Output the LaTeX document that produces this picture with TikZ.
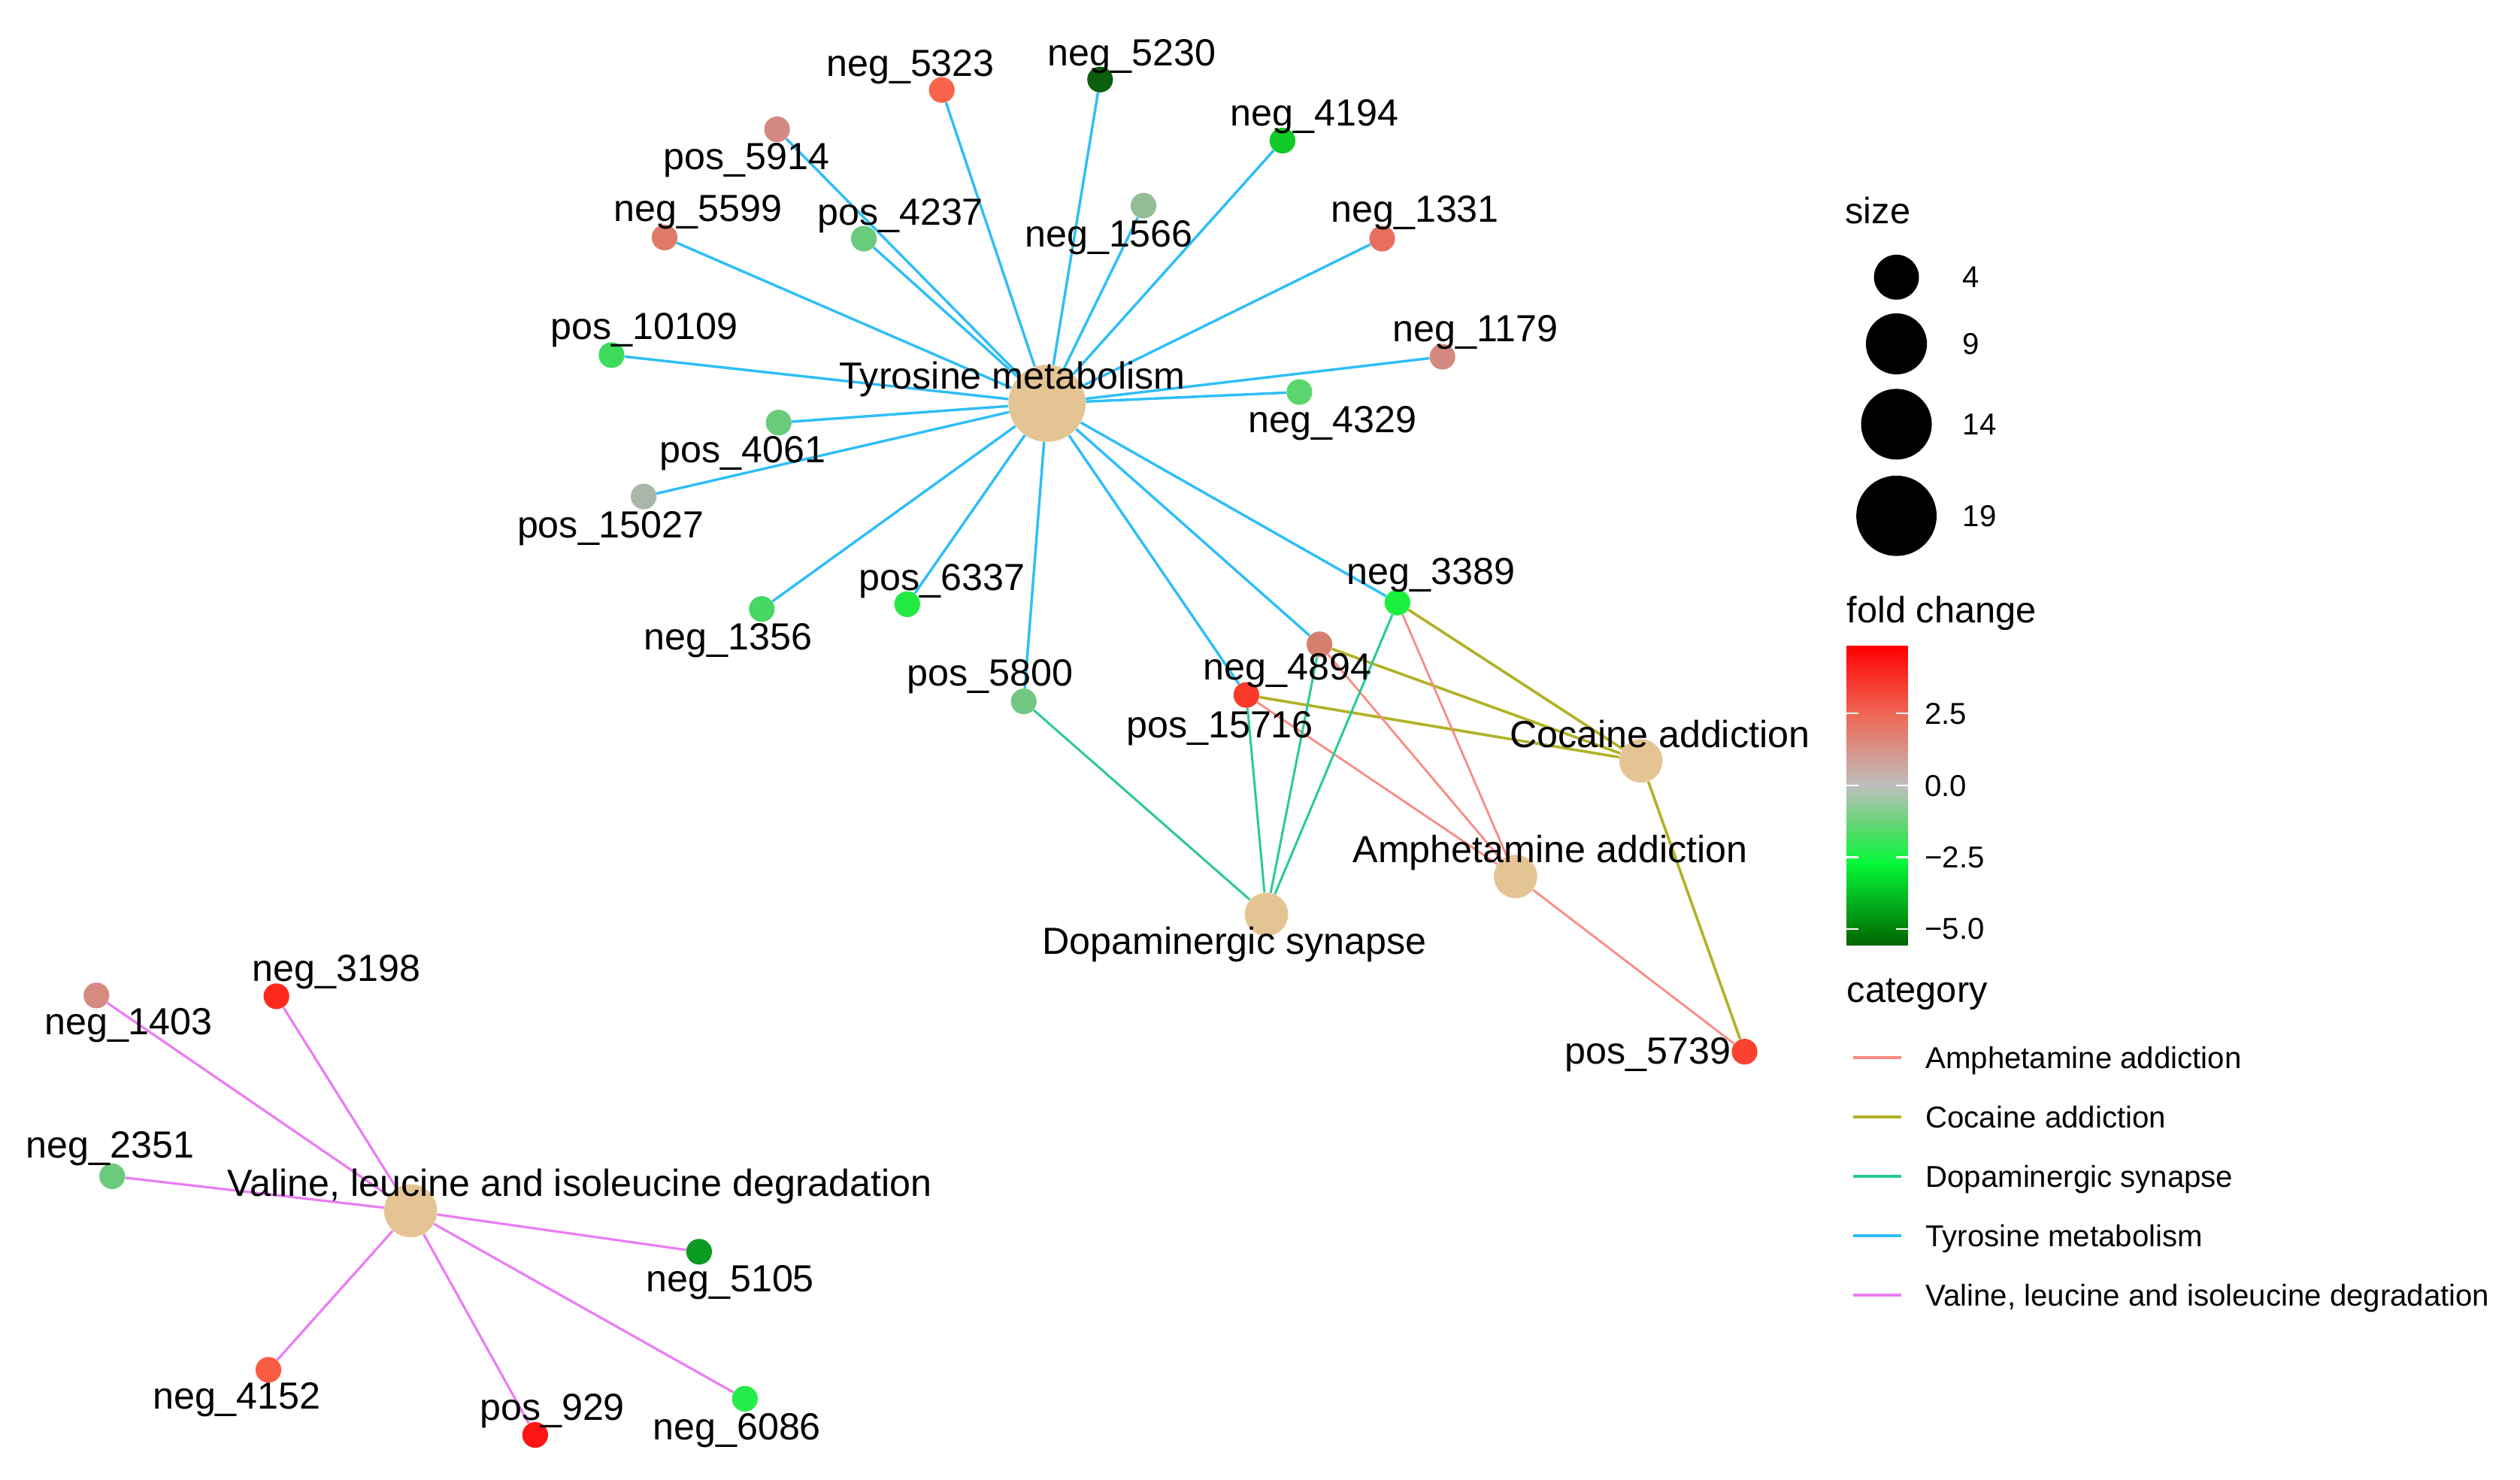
\documentclass[tikz,border=0pt]{standalone}
\usepackage{fontspec}
\setmainfont{Liberation Sans}
\pgfdeclarelayer{bg}
\pgfdeclarelayer{edges}
\pgfsetlayers{bg,edges,main}
\definecolor{hubc}{HTML}{E5C494}
\definecolor{camph}{HTML}{F8766D}
\definecolor{ccoc}{HTML}{A3A500}
\definecolor{cdop}{HTML}{00BF7D}
\definecolor{ctyr}{HTML}{00B0F6}
\definecolor{cval}{HTML}{E76BF3}
\colorlet{eamphc}{camph!85!white}
\colorlet{ecocc}{ccoc!85!white}
\colorlet{edopc}{cdop!83!white}
\colorlet{etyrc}{ctyr!82!white}
\colorlet{evalc}{cval!88!white}
\definecolor{f5323}{HTML}{F9634B}
\definecolor{f5230}{HTML}{0B5E0B}
\definecolor{f4194}{HTML}{10C828}
\definecolor{f5914}{HTML}{D48A80}
\definecolor{f1566}{HTML}{93BD97}
\definecolor{f5599}{HTML}{DF7A68}
\definecolor{f4237}{HTML}{6ACB7C}
\definecolor{f1331}{HTML}{E86E5D}
\definecolor{f10109}{HTML}{3DDC5C}
\definecolor{f1179}{HTML}{D48A80}
\definecolor{f4329}{HTML}{5BD66F}
\definecolor{f4061}{HTML}{6ACB7C}
\definecolor{f15027}{HTML}{A8B7A9}
\definecolor{f3389}{HTML}{1CF03E}
\definecolor{f6337}{HTML}{22EA40}
\definecolor{f1356}{HTML}{47D765}
\definecolor{f4894}{HTML}{D5806F}
\definecolor{f15716}{HTML}{FB3B2A}
\definecolor{f5800}{HTML}{72C882}
\definecolor{f5739}{HTML}{FB4230}
\definecolor{f1403}{HTML}{D68B80}
\definecolor{f3198}{HTML}{FD2A1C}
\definecolor{f2351}{HTML}{6ACB7C}
\definecolor{f5105}{HTML}{0B9A22}
\definecolor{f4152}{HTML}{F95C42}
\definecolor{f929}{HTML}{FB1515}
\definecolor{f6086}{HTML}{25EE4A}
\definecolor{gdark}{HTML}{006400}
\definecolor{gbright}{HTML}{05F838}
\definecolor{gmidg}{HTML}{62D672}
\definecolor{ggrey}{HTML}{BEBEBE}
\definecolor{gmidr}{HTML}{EE6A58}
\definecolor{gred}{HTML}{FF0000}
\tikzset{
  leaf/.style={circle, inner sep=0pt, minimum size=16pt, fill=#1},
  hubnode/.style={circle, inner sep=0pt, minimum size=#1, fill=hubc},
  lbl/.style={anchor=base, inner sep=0pt, font=\fontsize{23.5}{28}\selectfont},
  legtxt/.style={anchor=base west, inner sep=0pt, font=\fontsize{18.8}{22}\selectfont},
  legttl/.style={anchor=base west, inner sep=0pt, font=\fontsize{22.8}{27}\selectfont},
  sizedot/.style={circle, inner sep=0pt, minimum size=#1, fill=black},
  etyr/.style={draw=etyrc, line width=1.6pt},
  ecoc/.style={draw=ecocc, line width=1.7pt},
  eamph/.style={draw=eamphc, line width=1.3pt},
  edop/.style={draw=edopc, line width=1.4pt},
  eval/.style={draw=evalc, line width=1.5pt},
  legline/.style={line width=1.9pt},
  tickw/.style={draw=white, line width=1pt}
}
\begin{document}
\begin{tikzpicture}[x=1pt,y=-1pt]
\begin{pgfonlayer}{bg}
\fill[white] (0,0) rectangle (1568,920.6);
\end{pgfonlayer}
\useasboundingbox (0,0) rectangle (1568,920.6);

% hubs
\node[hubnode=48pt] (tyr) at (651.5,251) {};
\node[hubnode=27pt] (coc) at (1021,473.5) {};
\node[hubnode=27pt] (amph) at (943,545.5) {};
\node[hubnode=27pt] (dop) at (788,569) {};
\node[hubnode=33pt] (val) at (255.5,753.5) {};

% leaves
\node[leaf=f5323] (n5323) at (586,56) {};
\node[leaf=f5230] (n5230) at (684.5,49.5) {};
\node[leaf=f4194] (n4194) at (798,87.5) {};
\node[leaf=f5914] (p5914) at (483.5,80.5) {};
\node[leaf=f1566] (n1566) at (711.5,128) {};
\node[leaf=f5599] (n5599) at (413.5,147.8) {};
\node[leaf=f4237] (p4237) at (537.5,148.5) {};
\node[leaf=f1331] (n1331) at (860,148.5) {};
\node[leaf=f10109] (p10109) at (380.5,221) {};
\node[leaf=f1179] (n1179) at (897.5,222) {};
\node[leaf=f4329] (n4329) at (808.5,244) {};
\node[leaf=f4061] (p4061) at (484.5,263) {};
\node[leaf=f15027] (p15027) at (400.5,309) {};
\node[leaf=f3389] (n3389) at (869.5,375) {};
\node[leaf=f6337] (p6337) at (564.5,376) {};
\node[leaf=f1356] (n1356) at (474,379) {};
\node[leaf=f4894] (n4894) at (821,401) {};
\node[leaf=f15716] (p15716) at (775.5,432.5) {};
\node[leaf=f5800] (p5800) at (637,436.5) {};
\node[leaf=f5739] (p5739) at (1085.5,654.5) {};
\node[leaf=f1403] (n1403) at (60,619.5) {};
\node[leaf=f3198] (n3198) at (172,620) {};
\node[leaf=f2351] (n2351) at (69.8,732) {};
\node[leaf=f5105] (n5105) at (435,779) {};
\node[leaf=f4152] (n4152) at (167,852.5) {};
\node[leaf=f929] (p929) at (333,893) {};
\node[leaf=f6086] (n6086) at (463.5,870.5) {};

% edges
\begin{pgfonlayer}{edges}
\foreach \t in {n5323,n5230,n4194,p5914,n1566,n5599,p4237,n1331,p10109,n1179,n4329,p4061,p15027,n3389,p6337,n1356,n4894,p15716,p5800}
  \draw[etyr] (tyr) -- (\t);
\foreach \t in {n3389,n4894,p15716,p5739}
  \draw[ecoc] (coc) -- (\t);
\foreach \t in {n3389,n4894,p15716,p5739}
  \draw[eamph] (amph) -- (\t);
\foreach \t in {p5800,p15716,n4894,n3389}
  \draw[edop] (dop) -- (\t);
\foreach \t in {n1403,n3198,n2351,n5105,n4152,p929,n6086}
  \draw[eval] (val) -- (\t);
\end{pgfonlayer}

% labels
\node[lbl] (l5323) at (566.5,47.6) {neg\_5323};
\node[lbl] (l5230) at (704.2,40.7) {neg\_5230};
\node[lbl] (l4194) at (818,78.3) {neg\_4194};
\node[lbl] (l5914) at (464.4,105.4) {pos\_5914};
\node[lbl] (l5599) at (434.4,137.8) {neg\_5599};
\node[lbl] (l4237) at (560.2,140) {pos\_4237};
\node[lbl] (l1566) at (690,153.5) {neg\_1566};
\node[lbl] (l1331) at (880.4,138.2) {neg\_1331};
\node[lbl] (l10109) at (401,211.3) {pos\_10109};
\node[lbl] (l1179) at (917.9,212.6) {neg\_1179};
\node[lbl] (ltyr) at (629.8,242.2) {Tyrosine metabolism};
\node[lbl] (l4329) at (829.1,269.4) {neg\_4329};
\node[lbl] (l4061) at (462,287.7) {pos\_4061};
\node[lbl] (l15027) at (380,334.5) {pos\_15027};
\node[lbl] (l3389) at (890.5,363.7) {neg\_3389};
\node[lbl] (l6337) at (586,367.3) {pos\_6337};
\node[lbl] (l1356) at (453,404.5) {neg\_1356};
\node[lbl] (l5800) at (616,427) {pos\_5800};
\node[lbl] (l4894) at (801,423.3) {neg\_4894};
\node[lbl] (l15716) at (759,459.2) {pos\_15716};
\node[lbl] (lcoc) at (1032.7,465) {Cocaine addiction};
\node[lbl] (lamph) at (964.6,536.7) {Amphetamine addiction};
\node[lbl] (ldop) at (768,594) {Dopaminergic synapse};
\node[lbl] (l5739) at (1025.5,662) {pos\_5739};
\node[lbl] (l3198) at (209.4,610.6) {neg\_3198};
\node[lbl] (l1403) at (80,643.8) {neg\_1403};
\node[lbl] (l2351) at (68.5,720.5) {neg\_2351};
\node[lbl] (lval) at (360.7,744.6) {Valine, leucine and isoleucine degradation};
\node[lbl] (l5105) at (454.3,804) {neg\_5105};
\node[lbl] (l4152) at (147.3,877) {neg\_4152};
\node[lbl] (l929) at (343.6,883.9) {pos\_929};
\node[lbl] (l6086) at (458.5,895.8) {neg\_6086};

% legend: size
\node[legttl] (tsize) at (1148,139) {size};
\node[sizedot=28pt] (s4) at (1180,172.5) {};
\node[sizedot=38pt] (s9) at (1180,214) {};
\node[sizedot=44pt] (s14) at (1180,264) {};
\node[sizedot=50pt] (s19) at (1180,321) {};
\node[legtxt] (ts4) at (1221,179) {4};
\node[legtxt] (ts9) at (1221,220.5) {9};
\node[legtxt] (ts14) at (1221,270.5) {14};
\node[legtxt] (ts19) at (1221,327.5) {19};

% legend: fold change
\node[legttl] (tfc) at (1149,387.5) {fold change};
\shade[bottom color=gdark, top color=gbright] (1149,588) rectangle (1187,537);
\shade[bottom color=gbright, top color=gmidg] (1149,537.3) rectangle (1187,513);
\shade[bottom color=gmidg, top color=ggrey] (1149,513.3) rectangle (1187,489);
\shade[bottom color=ggrey, top color=gmidr] (1149,489.3) rectangle (1187,445.5);
\shade[bottom color=gmidr, top color=gred] (1149,445.8) rectangle (1187,402);
\foreach \yy in {444,489,533.5,578}{
  \draw[tickw] (1149,\yy) -- (1156.5,\yy);
  \draw[tickw] (1179.5,\yy) -- (1187,\yy);
}
\node[legtxt] (tk1) at (1197.5,450.5) {2.5};
\node[legtxt] (tk2) at (1197.5,495.5) {0.0};
\node[legtxt] (tk3) at (1197.5,540) {−2.5};
\node[legtxt] (tk4) at (1197.5,584.5) {−5.0};

% legend: category
\node[legttl] (tcat) at (1149,624) {category};
\coordinate (c1a) at (1153,658); \coordinate (c1b) at (1183,658);
\coordinate (c2a) at (1153,695); \coordinate (c2b) at (1183,695);
\coordinate (c3a) at (1153,732); \coordinate (c3b) at (1183,732);
\coordinate (c4a) at (1153,769); \coordinate (c4b) at (1183,769);
\coordinate (c5a) at (1153,806); \coordinate (c5b) at (1183,806);
\draw[legline, eamphc] (c1a) -- (c1b);
\draw[legline, ecocc] (c2a) -- (c2b);
\draw[legline, edopc] (c3a) -- (c3b);
\draw[legline, etyrc] (c4a) -- (c4b);
\draw[legline, evalc] (c5a) -- (c5b);
\node[legtxt] (tc1) at (1198,664.8) {Amphetamine addiction};
\node[legtxt] (tc2) at (1198,701.8) {Cocaine addiction};
\node[legtxt] (tc3) at (1198,738.8) {Dopaminergic synapse};
\node[legtxt] (tc4) at (1198,775.8) {Tyrosine metabolism};
\node[legtxt] (tc5) at (1198,812.8) {Valine, leucine and isoleucine degradation};
\end{tikzpicture}
\end{document}
